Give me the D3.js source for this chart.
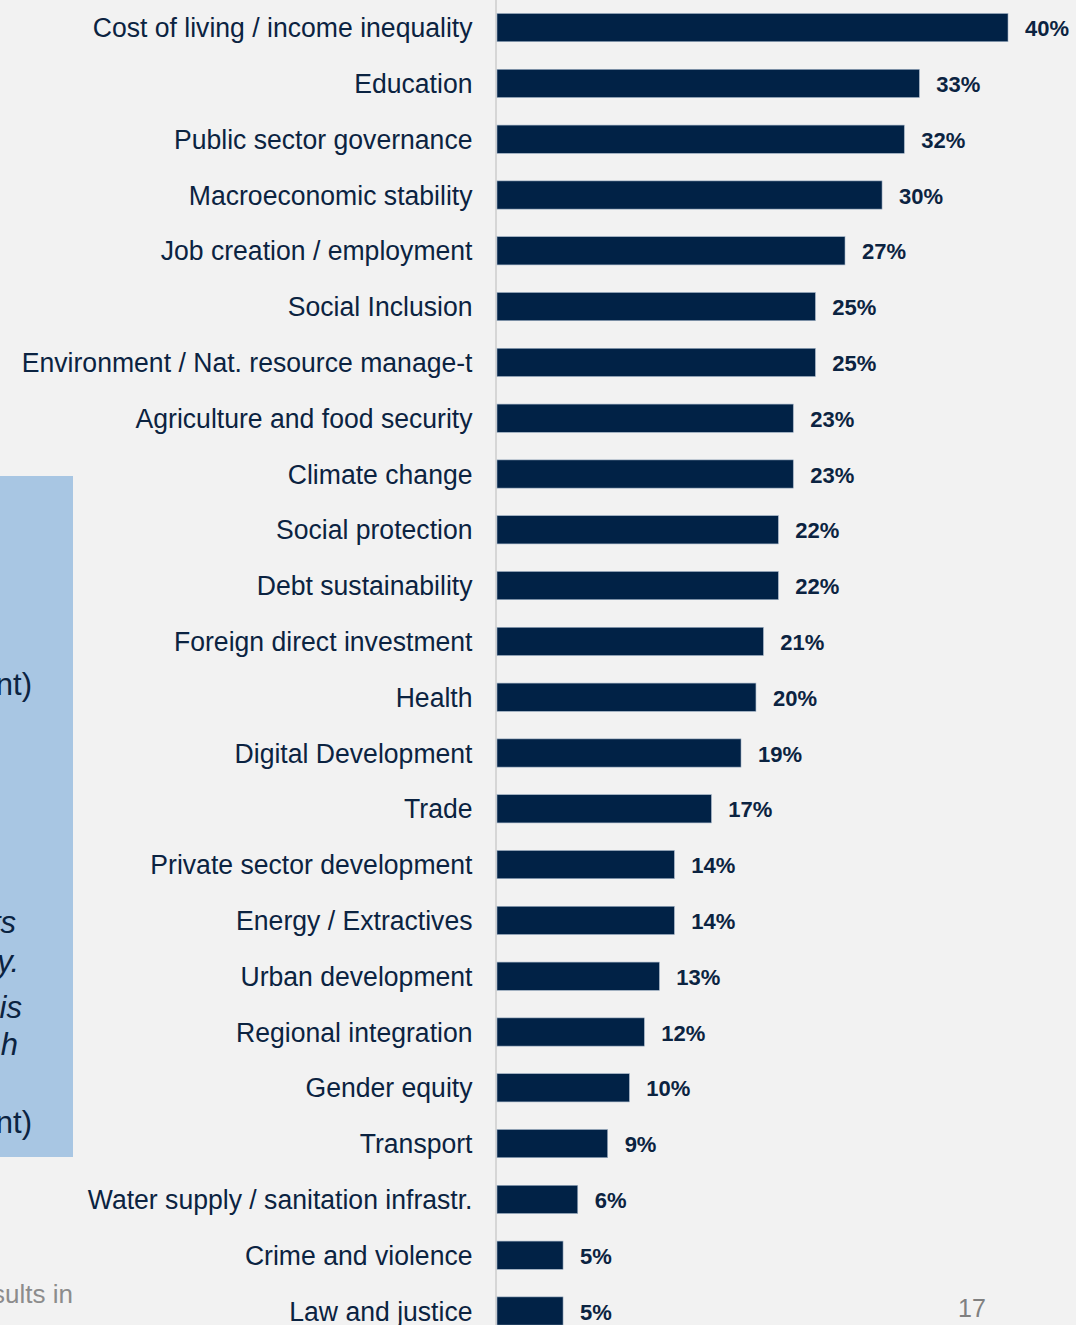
<!DOCTYPE html>
<html>
<head>
<meta charset="utf-8">
<script src="https://cdn.jsdelivr.net/npm/d3@7"></script>
<style>
  html, body { margin: 0; padding: 0; background: #f2f2f2; }
  svg { display: block; }
</style>
</head>
<body>
<svg id="chart" width="1076" height="1325"></svg>
<script>
// ---- data ----
const categories = [
  "Cost of living / income inequality",
  "Education",
  "Public sector governance",
  "Macroeconomic stability",
  "Job creation / employment",
  "Social Inclusion",
  "Environment / Nat. resource manage-t",
  "Agriculture and food security",
  "Climate change",
  "Social protection",
  "Debt sustainability",
  "Foreign direct investment",
  "Health",
  "Digital Development",
  "Trade",
  "Private sector development",
  "Energy / Extractives",
  "Urban development",
  "Regional integration",
  "Gender equity",
  "Transport",
  "Water supply / sanitation infrastr.",
  "Crime and violence",
  "Law and justice"
];
const values = [40.0, 33.06, 31.88, 30.14, 27.24, 24.92, 24.92, 23.19, 23.19, 22.02, 22.02,
  20.85, 20.27, 19.10, 16.78, 13.88, 13.88, 12.71, 11.53, 10.36, 8.66, 6.32, 5.17, 5.17];
const valueLabels = ["40%", "33%", "32%", "30%", "27%", "25%", "25%", "23%", "23%", "22%", "22%",
  "21%", "20%", "19%", "17%", "14%", "14%", "13%", "12%", "10%", "9%", "6%", "5%", "5%"];
const sideFragments = ["nt)", "ts", "y.", "is", "h", "nt)"];
const footnoteFragment = "sults in";
const pageNumber = "17";

// ---- drawing ----
const svg = d3.select("#chart");
const W = 1076, H = 1325;
const font = "'Liberation Sans', Arial, Helvetica, sans-serif";
const navy = "#0b2341";
const barColor = "#012246";

svg.append("rect").attr("width", W).attr("height", H).attr("fill", "#f2f2f2");

// left blue panel (partially visible)
svg.append("rect")
  .attr("x", -10).attr("y", 476).attr("width", 83).attr("height", 681)
  .attr("fill", "#a8c6e3");

const fragPos = [
  {x: 32, y: 695, italic: false},
  {x: 16, y: 933, italic: true},
  {x: 19, y: 972, italic: true},
  {x: 22, y: 1018, italic: true},
  {x: 18, y: 1055, italic: true},
  {x: 32, y: 1133, italic: false}
];
svg.append("g").selectAll("text")
  .data(sideFragments)
  .join("text")
  .attr("x", (d, i) => fragPos[i].x)
  .attr("y", (d, i) => fragPos[i].y)
  .attr("text-anchor", "end")
  .attr("font-family", font)
  .attr("font-size", 31)
  .attr("font-style", (d, i) => fragPos[i].italic ? "italic" : "normal")
  .attr("fill", navy)
  .text(d => d);

svg.append("text")
  .attr("x", 73).attr("y", 1303)
  .attr("text-anchor", "end")
  .attr("font-family", font).attr("font-size", 26)
  .attr("fill", "#8c8c8c")
  .text(footnoteFragment);

svg.append("text")
  .attr("x", 958).attr("y", 1317)
  .attr("font-family", font).attr("font-size", 25)
  .attr("fill", "#808080")
  .text(pageNumber);

// scales
const x0 = 497;
const x = d3.scaleLinear().domain([0, 40]).range([x0, 1008]);
const y = d3.scaleBand()
  .domain(categories)
  .range([-0.3, 1338.9])
  .paddingInner(0.4946)
  .paddingOuter(0.2473);

// axis line
const axis = svg.append("g")
  .attr("transform", `translate(${x0 - 1},0)`)
  .call(d3.axisLeft(y).tickSize(0).tickPadding(0));
axis.select(".domain")
  .attr("stroke", "#d6d6d6").attr("stroke-width", 2)
  .attr("d", `M0,0V${H}`);
axis.selectAll(".tick text")
  .attr("font-family", font)
  .attr("font-size", 28)
  .attr("fill", navy)
  .attr("text-anchor", "end")
  .attr("dy", null)
  .attr("x", -23.5 / 0.95)
  .attr("y", 9.5)
  .attr("transform", "scale(0.95,1)");

// bars
svg.append("g").selectAll("rect")
  .data(categories)
  .join("rect")
  .attr("x", x(0))
  .attr("y", d => y(d))
  .attr("width", (d, i) => x(values[i]) - x(0))
  .attr("height", y.bandwidth())
  .attr("fill", barColor)
  .attr("stroke", "#9fb0c4")
  .attr("stroke-width", 0.6);

// value labels
svg.append("g").selectAll("text")
  .data(categories)
  .join("text")
  .attr("x", (d, i) => x(values[i]) + 17)
  .attr("y", d => y(d) + y.bandwidth() / 2 + 8.5)
  .attr("font-family", font)
  .attr("font-size", 22)
  .attr("font-weight", "bold")
  .attr("fill", navy)
  .text((d, i) => valueLabels[i]);
</script>
</body>
</html>
